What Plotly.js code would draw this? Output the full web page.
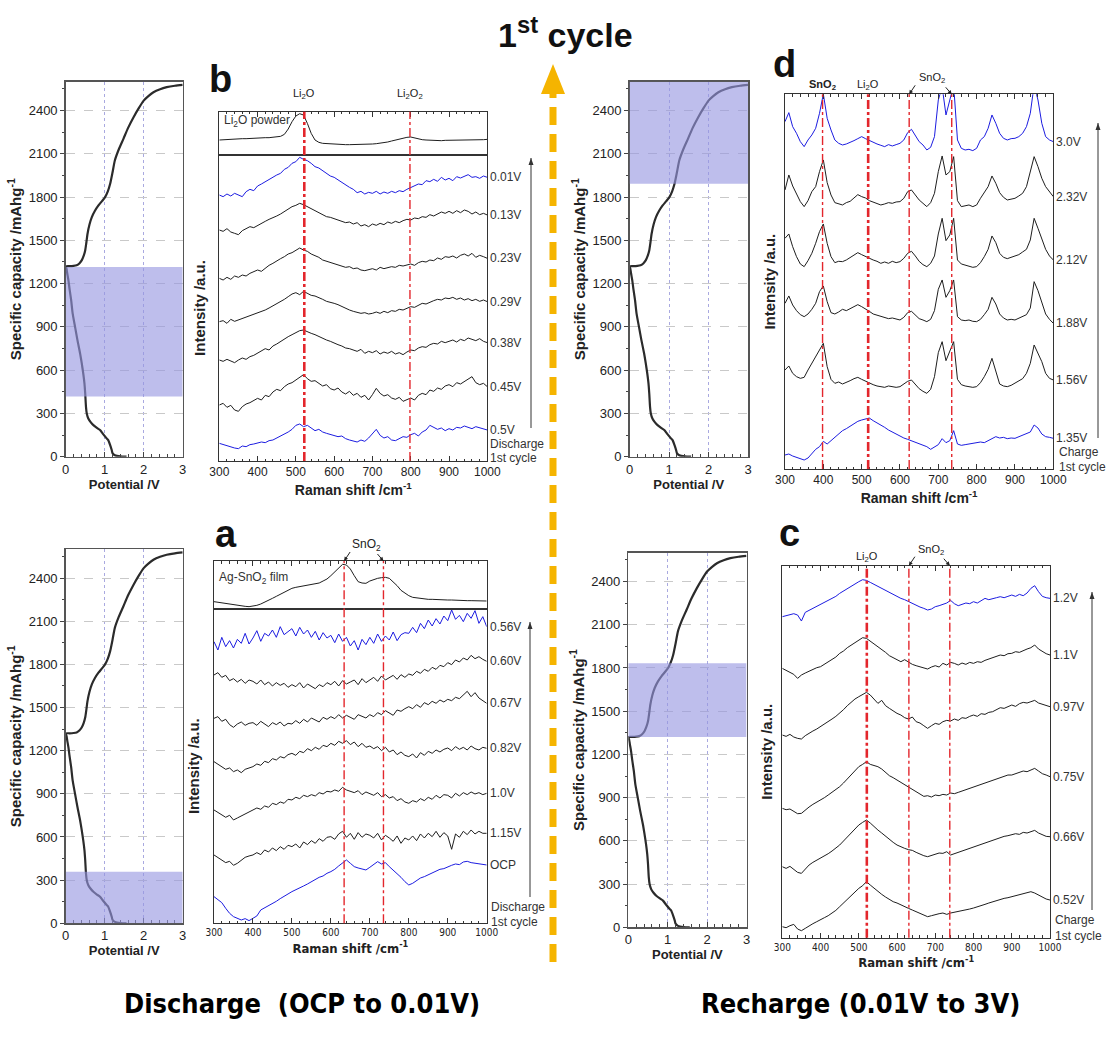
<!DOCTYPE html>
<html><head><meta charset="utf-8">
<script src="https://cdn.plot.ly/plotly-3.0.1.min.js"></script>
<style>body{margin:0;background:#fff}</style>
</head><body><div id="chart" style="width:1107px;height:1047px"></div>
<script>
// ---------------- DATA ----------------
const ramanShift = [300,310,320,330,340,350,360,370,380,390,400,410,420,430,440,450,460,470,480,490,
500,510,520,530,540,550,560,570,580,590,600,610,620,630,640,650,660,670,680,690,
700,710,720,730,740,750,760,770,780,790,800,810,820,830,840,850,860,870,880,890,
900,910,920,930,940,950,960,970,980,990,1000];

const capPotential = [1.56,1.40,1.26,1.20,1.18,1.14,1.09,1.05,0.95,0.88,0.80,0.71,0.64,0.58,0.54,0.52,0.50,0.48,0.45,0.41,
0.37,0.30,0.24,0.18,0.14,0.10,0.07,0.04,0.02,0.00,
0.10,0.20,0.28,0.35,0.41,0.46,0.50,0.53,0.56,0.61,0.67,0.75,0.84,0.93,1.01,1.08,1.14,1.20,1.26,1.36,
1.48,1.60,1.74,1.87,2.00,2.12,2.25,2.42,2.59,2.80,3.00];
const capCapacity = [0,2,10,25,46,80,115,127,160,185,200,219,240,265,300,346,440,510,577,650,
715,810,900,990,1085,1160,1223,1270,1304,1320,
1321,1323,1327,1340,1361,1392,1430,1485,1546,1610,1661,1705,1742,1772,1800,1840,1892,1970,2054,2130,
2204,2280,2354,2415,2469,2500,2527,2548,2562,2572,2578];

const shadeDischargeTop = [417,1315];
const shadeDischargeBottom = [0,358];
const shadeRechargeTop = [1893,2600];
const shadeRechargeBottom = [1320,1833];

// panel b (Li2O powder reference + discharge spectra)
const bPowder = [45,46,47,47,48,48,49,49,50,50,51,51,52,52,53,54,56,62,78,100,
117,124,120,95,65,45,38,35,34,33,32,32,31,31,31,31,31,31,32,32,
33,34,35,37,39,42,45,48,51,53,54,51,48,46,45,44,44,43,43,44,
44,44,45,45,45,45,46,46,46,46,47];
const b001 = [795,790,798,792,800,796,790,805,812,808,822,828,835,842,848,855,860,872,878,890,
895,908,902,898,890,880,876,868,862,852,848,840,832,826,818,812,802,806,798,803,
800,806,798,804,800,806,802,808,805,812,818,822,828,826,838,835,842,836,848,840,
845,838,850,846,852,856,848,850,845,852,848];
const b013 = [690,686,694,684,680,676,688,694,700,697,704,710,716,722,726,732,738,746,752,760,
764,770,766,760,756,748,742,736,730,728,724,718,716,712,714,708,712,702,706,700,
708,704,710,706,714,710,716,712,718,722,720,726,724,730,728,736,732,738,744,740,
746,740,748,742,750,746,738,744,736,740,735];
const b023 = [545,540,548,542,552,548,555,552,560,564,570,566,576,584,590,598,604,610,618,622,
628,636,630,626,618,614,608,600,596,592,590,584,582,578,580,574,576,570,568,572,
574,570,578,574,576,580,578,584,582,586,588,584,592,596,594,600,598,606,602,610,
608,612,606,614,618,612,620,608,614,610,605];
const b029 = [415,418,410,422,416,420,426,430,434,438,440,446,450,456,462,470,474,482,490,498,
502,496,506,500,494,492,488,482,476,474,470,466,460,456,450,446,444,440,442,438,
440,444,440,446,442,448,446,452,450,456,460,458,464,470,468,474,478,482,480,486,
484,488,482,486,480,484,478,482,476,480,475];
const b038 = [300,296,302,298,292,300,306,302,310,314,320,326,334,330,342,348,356,362,370,376,
382,388,390,384,380,376,370,366,360,356,350,346,342,336,334,330,326,332,320,326,
322,328,318,324,320,326,318,322,316,324,330,328,336,340,338,346,350,348,356,352,
356,360,354,362,358,366,362,358,364,356,352];
const b045 = [165,170,158,164,150,146,160,168,172,178,185,180,194,190,204,212,208,220,228,232,
240,246,256,244,236,238,230,222,226,214,210,216,204,198,206,194,200,188,194,180,
196,215,200,192,196,186,182,188,176,180,186,180,194,200,196,210,206,216,212,222,
226,220,232,228,236,242,250,232,226,230,220];
const b05 = [50,46,44,40,36,34,42,40,46,48,50,54,52,58,60,66,70,76,84,92,
104,108,100,104,96,88,92,84,80,76,74,70,72,64,60,56,54,60,56,66,
80,92,74,66,70,60,58,64,70,68,76,80,72,84,90,104,98,92,96,88,
94,90,98,96,102,98,94,100,96,92,90];
const bLabels = ['0.01V','0.13V','0.23V','0.29V','0.38V','0.45V','0.5V'];
const bBlue = [true,false,false,false,false,false,true];
const bPeaks = [522,798];

// panel a (Ag-SnO2 film reference + discharge spectra)
const aFilm = [22,20,18,16,14,12,10,9,8,7,8,11,15,20,26,32,38,44,50,56,
62,65,67,69,71,72,74,78,84,90,100,112,124,134,132,120,100,82,78,77,
84,89,92,94,95,92,82,70,56,48,40,35,33,31,30,29,29,28,28,28,
27,27,26,26,26,25,25,25,25,24,24];
const a056 = [845,820,858,830,848,826,852,840,870,838,856,878,846,870,862,880,858,890,866,876,
884,862,888,868,880,858,876,850,872,856,864,842,868,846,858,832,848,820,852,836,
858,840,868,846,862,850,874,848,866,872,870,888,872,900,884,910,892,914,898,922,
908,940,912,924,905,930,915,938,900,920,890];
const a060 = [745,752,738,744,728,734,724,732,720,730,726,718,730,716,724,712,722,714,720,708,
716,710,722,706,718,712,704,716,710,722,716,726,712,728,718,724,730,716,734,722,
730,738,726,742,730,736,744,732,746,738,748,744,756,750,762,756,768,762,774,770,
782,776,790,784,796,790,804,794,800,792,786];
const a067 = [615,620,606,612,596,588,598,604,594,600,602,594,606,598,590,602,596,604,592,600,
598,608,600,612,604,616,610,604,618,612,620,614,626,616,624,618,612,626,620,616,
626,620,632,626,638,630,624,640,636,644,650,644,656,648,662,656,666,660,670,664,
672,668,678,674,684,696,680,692,676,668,660];
const a082 = [485,478,470,462,466,455,460,452,462,466,470,478,474,486,482,494,490,500,496,506,
510,504,516,512,524,518,528,522,534,530,540,534,546,540,548,536,544,530,540,528,
532,524,530,518,528,514,520,506,514,504,500,508,496,512,504,516,510,520,514,522,
526,518,530,522,528,520,532,524,520,528,525];
const a100 = [340,332,326,318,324,310,316,322,330,336,340,346,342,352,348,360,356,364,360,372,
370,378,374,384,380,386,382,392,388,396,394,400,396,408,400,396,392,398,386,394,
390,384,392,380,386,376,380,368,374,364,360,368,364,374,368,378,372,384,376,386,
384,376,390,382,392,386,394,388,392,386,390];
const a115 = [205,198,190,182,186,174,180,190,198,202,205,212,206,220,214,226,218,230,222,234,
230,238,226,244,236,248,240,254,246,258,260,252,268,276,258,270,252,272,258,268,
264,256,270,250,264,256,246,262,240,256,250,262,248,268,256,270,260,276,258,272,
262,222,268,258,276,266,280,268,276,270,270];
const aOCP = [80,70,62,45,30,20,14,10,14,8,15,22,40,46,52,60,66,74,82,88,
95,100,106,112,118,125,130,138,142,150,155,162,172,182,190,180,170,166,162,160,
168,176,185,178,182,170,160,150,138,125,115,120,128,136,140,146,152,156,162,164,
170,174,178,176,184,186,182,180,178,176,175];
const aLabels = ['0.56V','0.60V','0.67V','0.82V','1.0V','1.15V','OCP'];
const aBlue = [true,false,false,false,false,false,true];
const aPeaks = [634,735];

// panel d (recharge spectra, 1.35 V to 3.0 V)
const d300 = [1055,1082,1040,1020,995,980,1000,1015,1035,1080,1138,1065,1030,1000,990,985,988,992,998,1004,
1010,1004,998,992,988,984,980,986,982,986,990,1000,1022,1032,1015,995,985,970,978,1010,
1120,1160,1075,1120,1165,1000,975,970,972,968,975,1000,1010,1035,1075,1050,1020,1005,1000,1004,
1005,1010,1020,1040,1080,1165,1120,1050,1010,1000,995];
const d232 = [850,895,862,840,815,800,818,845,860,905,940,872,835,812,808,805,812,816,826,836,
830,826,818,814,810,805,808,812,810,814,815,825,845,850,835,820,810,800,812,840,
905,952,895,905,950,818,800,802,805,800,805,825,842,860,892,870,842,828,820,822,
825,832,840,860,905,950,920,885,860,845,830];
const d212 = [705,718,680,650,628,620,638,660,690,725,748,690,650,632,636,635,640,648,655,662,
656,650,644,640,636,630,634,630,636,632,635,645,660,666,652,636,626,620,630,652,
718,765,698,715,765,640,628,624,622,618,620,632,650,672,712,692,660,648,644,648,
650,656,664,672,700,765,735,705,672,652,640];
const d188 = [510,532,505,488,476,470,478,492,510,545,562,515,482,478,484,492,488,494,502,506,
500,494,486,478,474,470,468,464,466,462,460,468,482,486,474,464,460,455,462,488,
552,580,528,548,580,470,460,458,460,456,455,462,476,492,528,508,478,466,460,462,
460,466,470,476,496,575,548,510,478,462,450];
const d156 = [310,322,300,290,285,288,310,330,352,372,390,320,282,270,274,268,272,278,284,288,
282,276,270,266,262,260,258,262,260,258,260,268,276,280,268,254,246,240,252,290,
362,395,338,368,395,282,266,262,260,258,260,272,290,312,345,305,268,262,260,264,
270,276,284,300,330,385,362,335,300,285,280];
const d135 = [55,58,52,48,44,40,46,60,72,80,96,88,98,108,116,128,134,142,150,156,
160,164,166,158,152,146,138,130,124,116,110,106,102,98,94,90,86,80,72,78,
86,104,92,98,128,88,84,86,88,90,90,94,92,98,102,110,106,108,104,106,
105,110,114,118,124,145,136,118,110,108,105];
const dLabels = ['3.0V','2.32V','2.12V','1.88V','1.56V','1.35V'];
const dBlue = [true,false,false,false,false,true];
const dPeaks = [398,517,624,735];

// panel c (recharge spectra, 0.52 V to 1.2 V)
const c120 = [963,966,970,972,968,950,976,982,986,992,998,1004,1010,1016,1024,1033,1040,1048,1056,1062,
1068,1074,1072,1066,1060,1053,1046,1040,1034,1028,1023,1018,1014,1008,1002,998,992,988,983,986,
993,996,1000,1004,1012,1002,996,1000,1004,1002,1008,1004,1012,1018,1014,1016,1020,1023,1020,1024,
1028,1024,1030,1026,1034,1048,1056,1038,1024,1020,1018];
const c110 = [808,802,798,790,778,788,794,800,806,810,813,820,826,834,842,853,860,870,878,886,
893,900,898,890,882,873,866,856,846,840,833,828,834,826,820,816,812,808,806,812,
816,812,823,818,826,823,818,824,820,826,823,828,826,832,836,838,842,848,846,852,
853,858,856,862,866,870,878,866,858,852,848];
const c097 = [608,604,610,602,598,596,606,614,620,626,633,640,648,656,664,673,684,696,706,716,
723,730,736,728,714,703,712,696,688,680,673,668,660,656,662,648,644,636,628,636,
643,640,648,652,650,656,652,660,658,664,668,664,672,670,676,678,684,690,688,694,
698,694,702,706,704,708,712,704,700,696,693];
const c075 = [388,384,386,380,372,373,384,392,400,406,413,420,428,436,444,453,464,476,490,502,
513,520,528,520,516,513,506,496,486,480,473,466,458,450,444,438,430,424,426,422,
428,426,430,428,434,432,436,440,444,448,453,456,462,466,470,473,478,482,484,488,
488,492,496,500,498,503,508,500,492,488,483];
const c066 = [213,208,214,204,196,193,206,218,226,232,238,244,252,260,268,278,290,302,316,328,
338,346,353,344,332,323,314,304,294,286,278,272,268,264,262,256,250,246,243,246,
250,254,253,258,248,252,256,260,264,268,273,276,282,286,290,293,298,302,304,306,
308,312,310,316,314,318,322,314,308,304,303];
const c052 = [33,30,36,40,26,21,28,36,42,48,53,60,66,74,82,93,104,116,128,138,
148,156,168,158,148,138,130,122,114,108,104,98,92,88,83,78,72,68,63,66,
70,72,74,70,74,76,78,82,84,86,89,92,96,100,104,108,112,116,118,120,
123,126,130,134,136,138,134,128,120,116,113];
const cLabels = ['1.2V','1.1V','0.97V','0.75V','0.66V','0.52V'];
const cBlue = [true,false,false,false,false,false];
const cPeaks = [521,631,738];

// ---------------- LAYOUT HELPERS ----------------
const W = 1107, H = 1047;
const F = 'Arial, "Liberation Sans", sans-serif';
const FN = '"Liberation Sans Narrow", "Arial Narrow", "DejaVu Sans Condensed", Arial, sans-serif';
const px = (a, b) => [a / W, b / W];
const py = (t, b) => [1 - b / H, 1 - t / H];
const BLUE = '#1c1ce0', BLACK = '#1e1e1e', RED = '#e3262c';

const traces = [];
function addLine(xa, ya, x, y, color, w, shape) {
  traces.push({type: 'scatter', mode: 'lines', x: x, y: y, xaxis: xa, yaxis: ya,
    line: {color: color, width: w, shape: shape || 'linear', smoothing: 0.6},
    hoverinfo: 'skip', showlegend: false});
}

const layout = {
  width: W, height: H, margin: {l: 0, r: 0, t: 0, b: 0},
  paper_bgcolor: '#fff', plot_bgcolor: 'rgba(0,0,0,0)', showlegend: false,
  shapes: [], annotations: []
};

function capAxes(n, xd, yd) {
  const sx = n === 1 ? 'xaxis' : 'xaxis' + n, sy = n === 1 ? 'yaxis' : 'yaxis' + n;
  const idx = n === 1 ? 'x' : 'x' + n, idy = n === 1 ? 'y' : 'y' + n;
  layout[sx] = {domain: xd, anchor: idy, range: [0, 3], tick0: 0, dtick: 1,
    ticks: 'inside', ticklen: 5, tickcolor: '#444',
    minor: {dtick: 0.2, ticks: 'inside', ticklen: 3, tickcolor: '#444', showgrid: false},
    showline: true, linecolor: '#555', linewidth: 1.5, mirror: true,
    showgrid: true, gridcolor: '#a9a9e0', griddash: 'dot', gridwidth: 1, zeroline: false,
    tickfont: {family: F, size: 13, color: '#222'},
    title: {text: '<b>Potential /V</b>', font: {family: F, size: 13, color: '#222'}, standoff: 3}};
  layout[sy] = {domain: yd, anchor: idx, range: [0, 2600], tick0: 0, dtick: 300,
    ticks: 'outside', ticklen: 4, tickcolor: '#444',
    minor: {dtick: 150, ticks: 'outside', ticklen: 2, tickcolor: '#444', showgrid: false},
    showline: true, linecolor: '#555', linewidth: 1.5, mirror: true,
    showgrid: true, gridcolor: '#c9c9c9', griddash: 'dash', gridwidth: 1, zeroline: false,
    tickfont: {family: F, size: 13, color: '#222'},
    title: {text: '<b>Specific capacity /mAhg<sup>-1</sup></b>', font: {family: F, size: 15, color: '#222'}, standoff: 3}};
  addLine(idx, idy, capPotential, capCapacity, '#2b2b2b', 2.2, 'spline');
  return [idx, idy];
}

function ramanX(n, xd, anchor, opts) {
  layout['xaxis' + n] = Object.assign({domain: xd, anchor: anchor, range: [300, 1000], tick0: 300, dtick: 100,
    ticks: 'inside', ticklen: 5, tickcolor: '#333',
    minor: {dtick: 20, ticks: 'inside', ticklen: 2.5, tickcolor: '#333', showgrid: false},
    showline: true, linecolor: '#333', linewidth: 1, mirror: true,
    showgrid: false, zeroline: false}, opts);
}
function ramanY(n, yd, anchor, range, opts) {
  layout['yaxis' + n] = Object.assign({domain: yd, anchor: anchor, range: range,
    showline: true, linecolor: '#333', linewidth: 1, mirror: true,
    ticks: '', showticklabels: false, showgrid: false, zeroline: false}, opts);
}

// ---------------- CAPACITY PANELS ----------------
const capTL = capAxes(1, px(65.7, 182.7), py(81.7, 456.7));
const capBL = capAxes(2, px(65.7, 182.7), py(549.3, 923.3));
const capTR = capAxes(3, px(629.5, 748), py(81.7, 456.7));
const capBR = capAxes(4, px(628.3, 746.5), py(552.7, 927.3));
[[capTL, shadeDischargeTop], [capBL, shadeDischargeBottom], [capTR, shadeRechargeTop], [capBR, shadeRechargeBottom]]
  .forEach(([ax, band]) => layout.shapes.push({type: 'rect', xref: ax[0], yref: ax[1], x0: 0, x1: 3, y0: band[0], y1: band[1],
    fillcolor: 'rgba(150,150,225,0.62)', line: {width: 0}, layer: 'above'}));

// ---------------- RAMAN PANELS ----------------
const xtitle = (size, fam) => ({text: '<b>Raman shift /cm<sup>-1</sup></b>', font: {family: fam, size: size, color: '#222'}, standoff: 6});
const ytitle = (stand) => ({text: '<b>Intensity /a.u.</b>', font: {family: F, size: 15, color: '#222'}, standoff: stand});

// pixel extents of the Raman x axes (for arrow pointers)
const ramanDom = {x6: [219.3, 487.3], x8: [214, 486.7], x9: [785, 1053.3], x10: [782.3, 1050]};

// b
ramanX(5, px(219.3, 487.3), 'y5', {side: 'top', showticklabels: false});
ramanY(5, py(111.7, 155), 'x5', [0, 130]);
ramanX(6, px(219.3, 487.3), 'y6', {tickfont: {family: F, size: 12, color: '#222'}, title: xtitle(14, F)});
ramanY(6, py(155, 461), 'x6', [-3, 915], {title: ytitle(9)});
// a
ramanX(7, px(214, 486.7), 'y7', {side: 'top', showticklabels: false});
ramanY(7, py(561, 609), 'x7', [0, 144]);
ramanX(8, px(214, 486.7), 'y8', {tickfont: {family: FN, size: 10, color: '#222'}, title: xtitle(13, FN)});
ramanY(8, py(609, 923.3), 'x8', [0, 943], {title: ytitle(9)});
// d
ramanX(9, px(785, 1053.3), 'y9', {mirror: 'ticks', tickfont: {family: F, size: 12, color: '#222'}, title: xtitle(14, F)});
ramanY(9, py(94.3, 469), 'x9', [13, 1137], {title: ytitle(4)});
// c
ramanX(10, px(782.3, 1050), 'y10', {mirror: 'ticks', tickfont: {family: FN, size: 10, color: '#222'}, title: xtitle(13, FN)});
ramanY(10, py(565.7, 937.7), 'x10', [0, 1116], {title: ytitle(5)});

addLine('x5', 'y5', ramanShift, bPowder, BLACK, 1);
addLine('x7', 'y7', ramanShift, aFilm, BLACK, 1);

function panel(xa, ya, series, labels, blues) {
  series.forEach((s, i) => {
    addLine(xa, ya, ramanShift, s, blues[i] ? BLUE : BLACK, 1);
    layout.annotations.push({xref: xa, yref: ya, x: 1000, y: s[s.length - 1], text: labels[i],
      xanchor: 'left', yanchor: 'middle', xshift: 1, showarrow: false,
      font: {family: F, size: 12, color: '#333'}});
  });
}
panel('x6', 'y6', [b001, b013, b023, b029, b038, b045, b05], bLabels, bBlue);
panel('x8', 'y8', [a056, a060, a067, a082, a100, a115, aOCP], aLabels, aBlue);
panel('x9', 'y9', [d300, d232, d212, d188, d156, d135], dLabels, dBlue);
panel('x10', 'y10', [c120, c110, c097, c075, c066, c052], cLabels, cBlue);

// red dash-dot peak markers
function peakLines(xa, peaks, topPx, botPx, thickIdx) {
  peaks.forEach((p, i) => layout.shapes.push({type: 'line', xref: xa, yref: 'paper', x0: p, x1: p,
    y0: 1 - botPx / H, y1: 1 - topPx / H, layer: 'above',
    line: {color: RED, width: i === thickIdx ? 2.6 : 1.4, dash: 'dashdot'}}));
}
peakLines('x6', bPeaks, 111.7, 461, 0);
peakLines('x8', aPeaks, 561, 923.3, -1);
peakLines('x9', dPeaks, 94.3, 469, 1);
peakLines('x10', cPeaks, 565.7, 937.7, 0);

// ---------------- TEXT & ARROWS ----------------
const A = layout.annotations;
function note(x, y, text, size, extra) {
  A.push(Object.assign({xref: 'paper', yref: 'paper', x: x / W, y: 1 - y / H, text: text, showarrow: false,
    xanchor: 'center', yanchor: 'middle', font: {family: F, size: size, color: '#111'}}, extra || {}));
}
function dataNote(xa, xv, y, text, size, extra) {
  A.push(Object.assign({xref: xa, yref: 'paper', x: xv, y: 1 - y / H, text: text, showarrow: false,
    xanchor: 'center', yanchor: 'middle', font: {family: F, size: size, color: '#222'}}, extra || {}));
}
// arrow drawn as shapes (line + triangular head), pixel coordinates
function arrowShape(x0, y0, x1, y1, color, width, headLen, headHalf) {
  layout.shapes.push({type: 'line', xref: 'paper', yref: 'paper', x0: x0 / W, y0: 1 - y0 / H,
    x1: x1 / W, y1: 1 - y1 / H, line: {color: color, width: width}});
  const dx = x1 - x0, dy = y1 - y0, L = Math.hypot(dx, dy), ux = dx / L, uy = dy / L;
  const bx = x1 - ux * headLen, by = y1 - uy * headLen;
  const p = [[x1, y1], [bx - uy * headHalf, by + ux * headHalf], [bx + uy * headHalf, by - ux * headHalf]];
  layout.shapes.push({type: 'path', xref: 'paper', yref: 'paper',
    path: 'M ' + p.map(q => (q[0] / W) + ',' + (1 - q[1] / H)).join(' L ') + ' Z',
    fillcolor: color, line: {width: 0}});
}
function pointer(xa, xv, yTip, ax, ay) {
  const d = ramanDom[xa];
  const xt = d[0] + (xv - 300) / 700 * (d[1] - d[0]);
  arrowShape(xt + ax, yTip + ay, xt, yTip, '#222', 1, 4, 2);
}

// big titles
note(565, 32, '<b>1<sup>st</sup> cycle</b>', 34);
note(302, 1003, '<b>Discharge\u00a0\u00a0(OCP to 0.01V)</b>', 27, {font: {family: FN, size: 27, color: '#000'}});
note(860, 1003, '<b>Recharge (0.01V to 3V)</b>', 27, {font: {family: FN, size: 27, color: '#000'}});

// panel letters
note(220, 79, '<b>b</b>', 38);
note(226, 534, '<b>a</b>', 38);
note(784, 64, '<b>d</b>', 38);
note(789, 533, '<b>c</b>', 38);

const small = {xanchor: 'left', font: {family: F, size: 12, color: '#333'}};
// panel b labels
dataNote('x6', bPeaks[0], 94, 'Li<sub>2</sub>O', 11);
dataNote('x6', bPeaks[1], 94, 'Li<sub>2</sub>O<sub>2</sub>', 11);
note(222, 121, 'Li<sub>2</sub>O powder', 12, small);
note(488, 444, 'Discharge', 12, small);
note(488, 458, '1st cycle', 12, small);
arrowShape(531, 428, 531, 158, '#333', 1, 7, 2.5);

// panel a labels
dataNote('x8', 692, 545, 'SnO<sub>2</sub>', 12);
pointer('x8', aPeaks[0], 561, 6, -9);
pointer('x8', aPeaks[1], 561, -6, -7);
note(217, 578, 'Ag-SnO<sub>2</sub> film', 12, small);
note(489, 907, 'Discharge', 12, small);
note(489, 922, '1st cycle', 12, small);
arrowShape(530, 897, 530, 622, '#333', 1, 7, 2.5);

// panel d labels
dataNote('x9', dPeaks[0], 85, '<b>SnO<sub>2</sub></b>', 11);
dataNote('x9', dPeaks[1], 85, 'Li<sub>2</sub>O', 11);
dataNote('x9', 683, 78, 'SnO<sub>2</sub>', 11);
pointer('x9', dPeaks[2], 94.3, 6, -9);
pointer('x9', dPeaks[3], 94.3, -6, -7);
note(1057, 452, 'Charge', 12, small);
note(1057, 467, '1st cycle', 12, small);
arrowShape(1098, 438, 1098, 123, '#333', 1, 7, 2.5);

// panel c labels
dataNote('x10', cPeaks[0], 557, 'Li<sub>2</sub>O', 11);
dataNote('x10', 690, 550, 'SnO<sub>2</sub>', 11);
pointer('x10', cPeaks[1], 565.7, 6, -9);
pointer('x10', cPeaks[2], 565.7, -6, -7);
note(1053, 920, 'Charge', 12, small);
note(1053, 936, '1st cycle', 12, small);
arrowShape(1092, 910, 1092, 592, '#333', 1, 7, 2.5);

// big orange dashed arrow
const ORANGE = '#f5b400';
layout.shapes.push({type: 'line', xref: 'paper', yref: 'paper', x0: 553 / W, x1: 553 / W,
  y0: 1 - 962 / H, y1: 1 - 92 / H, line: {color: ORANGE, width: 7, dash: '18px,9px'}});
layout.shapes.push({type: 'path', xref: 'paper', yref: 'paper',
  path: 'M ' + (553 / W) + ',' + (1 - 64 / H) + ' L ' + (541 / W) + ',' + (1 - 94 / H) + ' L ' + (565 / W) + ',' + (1 - 94 / H) + ' Z',
  fillcolor: ORANGE, line: {width: 0}});

Plotly.newPlot('chart', traces, layout, {staticPlot: true, displayModeBar: false});
</script></body></html>
